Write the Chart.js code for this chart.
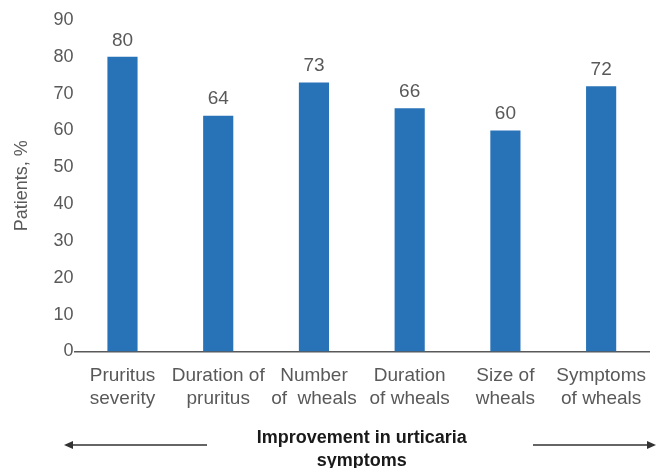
<!DOCTYPE html>
<html>
<head>
<meta charset="utf-8">
<script src="https://cdn.jsdelivr.net/npm/chart.js@4.4.1/dist/chart.umd.min.js"></script>
<style>
  html, body { margin: 0; padding: 0; background: #fff; }
  #wrap { width: 656px; height: 468px; }
</style>
</head>
<body>
<div id="wrap"><canvas id="urticariaChart"></canvas></div>
<script>
const categories = [
    ["Pruritus", "severity"],
    ["Duration of", "pruritus"],
    ["Number", "of  wheals"],
    ["Duration", "of wheals"],
    ["Size of", "wheals"],
    ["Symptoms", "of wheals"],
];
const patientsPct = [80, 64, 73, 66, 60, 72];
const yTicks = [0, 10, 20, 30, 40, 50, 60, 70, 80, 90];

const grey = "#595959";
const fontFamily = "'Liberation Sans', Arial, sans-serif";

// values above each bar
const valueLabels = {
    id: "valueLabels",
    afterDatasetsDraw(chart) {
        const ctx = chart.ctx;
        const meta = chart.getDatasetMeta(0);
        ctx.save();
        ctx.font = "19px " + fontFamily;
        ctx.fillStyle = grey;
        ctx.textAlign = "center";
        ctx.textBaseline = "bottom";
        meta.data.forEach((bar, i) => {
            ctx.fillText(patientsPct[i], bar.x, bar.y - 7);
        });
        ctx.restore();
    },
};

// arrows either side of the x axis title
const titleArrows = {
    id: "titleArrows",
    afterDraw(chart) {
        const ctx = chart.ctx;
        const y = 445;
        ctx.save();
        ctx.strokeStyle = "#333";
        ctx.fillStyle = "#333";
        ctx.lineWidth = 1.5;
        ctx.beginPath();
        ctx.moveTo(70, y);
        ctx.lineTo(207, y);
        ctx.moveTo(533, y);
        ctx.lineTo(650, y);
        ctx.stroke();
        ctx.beginPath();
        ctx.moveTo(64, y);
        ctx.lineTo(73, y - 4);
        ctx.lineTo(73, y + 4);
        ctx.closePath();
        ctx.fill();
        ctx.beginPath();
        ctx.moveTo(656, y);
        ctx.lineTo(647, y - 4);
        ctx.lineTo(647, y + 4);
        ctx.closePath();
        ctx.fill();
        ctx.restore();
    },
};

new Chart(document.getElementById("urticariaChart").getContext("2d"), {
    type: "bar",
    plugins: [valueLabels, titleArrows],
    data: {
        labels: categories,
        datasets: [
            {
                label: "Patients, %",
                data: patientsPct,
                backgroundColor: "#2873b8",
                categoryPercentage: 1.0,
                barPercentage: 0.315,
            },
        ],
    },
    options: {
        responsive: true,
        maintainAspectRatio: false,
        animation: false,
        layout: { padding: { top: 20, right: 7, left: 11, bottom: 0 } },
        plugins: {
            legend: { display: false },
            tooltip: { enabled: false },
        },
        scales: {
            y: {
                min: 0,
                max: 90,
                afterBuildTicks: (axis) => {
                    axis.ticks = yTicks.map((v) => ({ value: v }));
                },
                grid: { display: false, drawTicks: false },
                border: { display: false },
                ticks: {
                    color: grey,
                    font: { size: 18, family: fontFamily },
                    padding: 1,
                },
                title: {
                    display: true,
                    text: "Patients, %",
                    color: grey,
                    font: { size: 18, family: fontFamily },
                    padding: { top: 0, bottom: 20 },
                },
            },
            x: {
                afterFit: (axis) => {
                    axis.paddingRight = 0;
                },
                grid: { display: false, drawTicks: false },
                border: { display: true, color: "#595959", width: 1.5 },
                ticks: {
                    color: grey,
                    font: { size: 19, family: fontFamily, lineHeight: 1.2 },
                    padding: 13,
                    maxRotation: 0,
                    autoSkip: false,
                },
                title: {
                    display: true,
                    text: ["Improvement in urticaria", "symptoms"],
                    color: "#1a1a1a",
                    font: { size: 18, weight: "bold", family: fontFamily, lineHeight: 1.25 },
                    padding: { top: 4, bottom: -4 },
                },
            },
        },
    },
});
</script>
</body>
</html>
